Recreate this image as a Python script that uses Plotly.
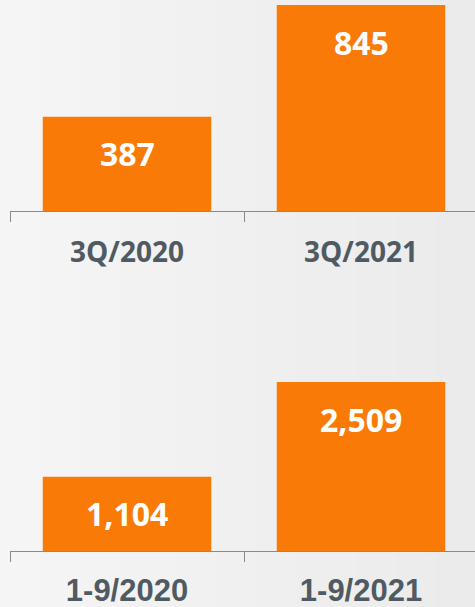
import plotly.graph_objects as go

# quarter figures
quarters = ["3Q/2020", "3Q/2021"]
quarter_values = [387, 845]
quarter_labels = ["387", "845"]

# nine-month figures
periods = ["1-9/2020", "1-9/2021"]
period_values = [1104, 2509]
period_labels = ["1,104", "2,509"]

ORANGE = "#fa7a07"
AXIS_GREY = "#8a8a8a"
TEXT_GREY = "#505a62"

fig = go.Figure()

fig.add_trace(go.Bar(x=quarters, y=quarter_values, marker=dict(color=ORANGE, line=dict(width=0)),
                     width=0.72, xaxis="x", yaxis="y", hoverinfo="x+y"))
fig.add_trace(go.Bar(x=periods, y=period_values, marker=dict(color=ORANGE, line=dict(width=0)),
                     width=0.72, xaxis="x2", yaxis="y2", hoverinfo="x+y"))

# value labels sit a fixed distance below the bar top
annotations = []
for cat, val, lab in zip(quarters, quarter_values, quarter_labels):
    annotations.append(dict(x=cat, y=val, xref="x", yref="y", text=lab, showarrow=False,
                            yanchor="middle", yshift=-37,
                            font=dict(family="Open Sans", size=32, color="white", weight="bold")))
for cat, val, lab in zip(periods, period_values, period_labels):
    annotations.append(dict(x=cat, y=val, xref="x2", yref="y2", text=lab, showarrow=False,
                            yanchor="middle", yshift=-37,
                            font=dict(family="Open Sans", size=32, color="white", weight="bold")))

# soft grey background gradient, left to right
shapes = []
n = 24
for i in range(n):
    t = i / (n - 1)
    g = int(round(245 - 10 * t))
    shapes.append(dict(type="rect", xref="paper", yref="paper", x0=i / n, x1=(i + 1) / n + 0.002,
                       y0=0, y1=1, fillcolor=f"rgb({g},{g},{g})", line=dict(width=0), layer="below"))

W, H = 475, 607
x_dom = [10 / W, 1]
x_rng = [-0.5, -0.5 + 465 / 234]

axis_common = dict(type="category", range=x_rng, domain=x_dom, showgrid=False, zeroline=False,
                   showline=True, linecolor=AXIS_GREY, linewidth=1.2, automargin=False,
                   ticks="outside", tickson="boundaries", ticklen=10, tickcolor=AXIS_GREY,
                   tickwidth=1.2)

fig.update_layout(
    width=W, height=H,
    margin=dict(l=0, r=0, t=0, b=0, autoexpand=False),
    paper_bgcolor="#efefef",
    plot_bgcolor="rgba(0,0,0,0)",
    showlegend=False,
    bargap=0.28,
    shapes=shapes,
    annotations=annotations,
    xaxis=dict(anchor="y", ticklabelstandoff=16,
               tickfont=dict(family="Open Sans", size=28, color=TEXT_GREY, weight="bold"),
               **axis_common),
    yaxis=dict(domain=[1 - 211 / H, 1], range=[0, 845 * 211 / 206], visible=False, fixedrange=True),
    xaxis2=dict(anchor="y2", ticklabelstandoff=12,
                tickfont=dict(family="Liberation Sans", size=31, color=TEXT_GREY, weight="bold"),
                **axis_common),
    yaxis2=dict(domain=[1 - 551 / H, 1 - 330 / H], range=[0, 221 * 2509 / 169], visible=False,
                fixedrange=True),
)

# page body has a default margin; drop it so the chart fills the window
fig.write_html("out.html", config=dict(displayModeBar=False),
               post_script="document.body.style.margin='0';document.body.style.overflow='hidden';")
